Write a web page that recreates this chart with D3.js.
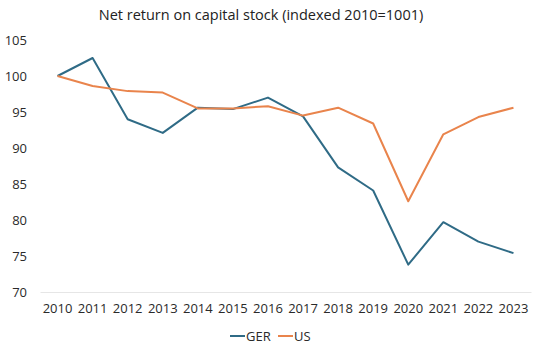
<!DOCTYPE html>
<html>
<head>
<meta charset="utf-8">
<script src="https://cdn.jsdelivr.net/npm/d3@7"></script>
<style>
  body { margin: 0; background: #fff; }
  svg { font-family: "Open Sans", "Liberation Sans", sans-serif; }
</style>
</head>
<body>
<div id="chart"></div>
<script>
// Net return on capital stock, indexed 2010 = 100
const YEARS = [2010, 2011, 2012, 2013, 2014, 2015, 2016, 2017, 2018, 2019, 2020, 2021, 2022, 2023];
const GER   = [100, 102.5, 94.0, 92.1, 95.6, 95.4, 97.0, 94.4, 87.3, 84.1, 73.8, 79.7, 77.0, 75.4];
const US    = [100, 98.6, 97.9, 97.7, 95.5, 95.5, 95.8, 94.5, 95.6, 93.4, 82.6, 91.9, 94.3, 95.6];
const Y_TICKS = [70, 75, 80, 85, 90, 95, 100, 105];

const W = 540, H = 352;
const MARGIN = { top: 40, right: 9, bottom: 60, left: 40 };
const iW = W - MARGIN.left - MARGIN.right;
const iH = H - MARGIN.top - MARGIN.bottom;

const COL = { GER: "#2f6b86", US: "#e9844c" };

const svg = d3.select("#chart").append("svg").attr("width", W).attr("height", H);

svg.append("text")
  .attr("x", 261).attr("y", 20)
  .attr("text-anchor", "middle").attr("font-size", 14.5).attr("fill", "#222")
  .text("Net return on capital stock (indexed 2010=1001)");

const g = svg.append("g").attr("transform", `translate(${MARGIN.left},${MARGIN.top})`);

const x = d3.scaleBand().domain(YEARS).range([0, iW]);
const y = d3.scaleLinear().domain([70, 105]).range([iH, 0]);

// Y axis labels (no line)
g.append("g")
  .call(d3.axisLeft(y).tickValues(Y_TICKS).tickSize(0).tickPadding(13))
  .call(ax => ax.select(".domain").remove())
  .call(ax => ax.selectAll("text").attr("fill", "#2a2a2a").attr("font-size", 13)
    .attr("font-family", "'Open Sans', sans-serif"));

// X axis
g.append("g").attr("transform", `translate(0,${iH})`)
  .call(d3.axisBottom(x).tickSize(0).tickPadding(12))
  .call(ax => ax.select(".domain").attr("stroke", "#e6e6e6"))
  .call(ax => ax.selectAll("text").attr("fill", "#2a2a2a").attr("font-size", 13)
    .attr("font-family", "'Open Sans', sans-serif"));

const cx = d => x(d) + x.bandwidth() / 2;
const line = d3.line().x((d, i) => cx(YEARS[i])).y(d => y(d));

[["GER", GER], ["US", US]].forEach(([name, vals]) => {
  g.append("path").datum(vals)
    .attr("d", line)
    .attr("fill", "none").attr("stroke", COL[name]).attr("stroke-width", 2)
    .attr("stroke-linejoin", "round");
});

// Legend
const legend = svg.append("g").attr("transform", "translate(230,336)");
[["GER", 0], ["US", 48]].forEach(([name, off]) => {
  legend.append("line")
    .attr("x1", off).attr("x2", off + 15).attr("y1", 0).attr("y2", 0)
    .attr("stroke", COL[name]).attr("stroke-width", 2);
  legend.append("text")
    .attr("x", off + 16).attr("y", 4.5)
    .attr("font-size", 13).attr("fill", "#2a2a2a")
    .text(name);
});
</script>
</body>
</html>
